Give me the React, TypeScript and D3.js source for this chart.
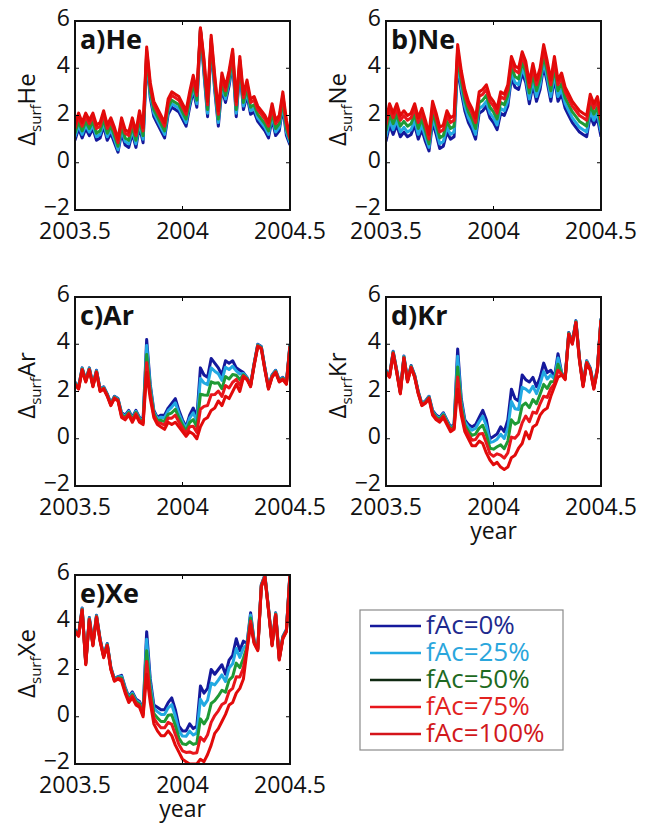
import React from "react";
import * as d3 from "d3";

// sample days since 2003.5 (every 6 days)
const DAYS = [0,6,12,18,24,30,36,42,48,54,60,66,72,78,84,90,96,102,108,114,120,126,132,138,144,150,156,162,168,174,180,186,192,198,204,210,216,222,228,234,240,246,252,258,264,270,276,282,288,294,300,306,312,318,324,330,336,342,348,354,360];

const X_TICKS = [2003.5, 2004, 2004.5];
const X_TICK_LABELS = ["2003.5", "2004", "2004.5"];
const Y_TICKS = [-2, 0, 2, 4, 6];
const Y_TICK_LABELS = ["\u22122", "0", "2", "4", "6"];

const SERIES_NAMES = ["fAc=0%", "fAc=25%", "fAc=50%", "fAc=75%", "fAc=100%"];

// He
const HE_0 = [0.95,1.45,1.05,1.45,1.15,1.45,0.95,1.05,1.55,0.95,1.25,0.85,0.45,1.25,0.75,0.65,1.25,0.65,1.55,0.85,4.35,2.75,1.95,1.65,1.35,1.05,2.05,2.35,2.25,2.15,1.85,1.55,2.35,3.05,2.35,5.6,3.75,1.95,4.95,3.05,1.55,3.15,2.55,3.25,4.25,1.95,3.95,2.25,2.85,2.05,2.15,1.75,1.55,1.35,1.05,1.85,1.15,1.35,2.35,1.15,0.75];
const HE_25 = [1.1,1.6,1.2,1.6,1.3,1.6,1.1,1.2,1.7,1.1,1.4,1.0,0.55,1.4,0.9,0.8,1.4,0.8,1.7,1.0,4.45,2.9,2.1,1.8,1.5,1.2,2.2,2.5,2.4,2.3,2.0,1.7,2.5,3.2,2.5,5.6,3.9,2.1,5.05,3.2,1.7,3.3,2.7,3.4,4.35,2.1,4.05,2.4,3.0,2.2,2.3,1.9,1.7,1.5,1.2,2.0,1.3,1.5,2.5,1.3,0.85];
const HE_50 = [1.25,1.75,1.35,1.75,1.45,1.75,1.25,1.35,1.85,1.25,1.55,1.15,0.7,1.55,1.05,0.95,1.55,0.95,1.85,1.15,4.6,3.05,2.25,1.95,1.65,1.35,2.35,2.65,2.55,2.45,2.15,1.85,2.65,3.35,2.65,5.65,4.05,2.25,5.15,3.35,1.85,3.45,2.85,3.55,4.5,2.25,4.2,2.55,3.15,2.35,2.45,2.05,1.85,1.65,1.35,2.15,1.45,1.65,2.65,1.45,0.95];
const HE_75 = [1.45,1.95,1.55,1.95,1.65,1.95,1.45,1.55,2.05,1.45,1.75,1.35,0.85,1.75,1.25,1.15,1.75,1.15,2.05,1.35,4.75,3.25,2.45,2.15,1.85,1.55,2.55,2.85,2.75,2.65,2.35,2.05,2.85,3.55,2.85,5.7,4.25,2.45,5.25,3.55,2.05,3.65,3.05,3.75,4.65,2.45,4.35,2.75,3.35,2.55,2.65,2.25,2.05,1.85,1.55,2.35,1.65,1.85,2.85,1.65,1.0];
const HE_100 = [1.6,2.1,1.7,2.1,1.8,2.1,1.6,1.7,2.2,1.6,1.9,1.5,1.0,1.9,1.4,1.3,1.9,1.3,2.2,1.5,4.9,3.4,2.6,2.3,2.0,1.7,2.7,3.0,2.9,2.8,2.5,2.2,3.0,3.7,3.0,5.7,4.4,2.6,5.4,3.7,2.2,3.8,3.2,3.9,4.8,2.6,4.5,2.9,3.5,2.7,2.8,2.4,2.2,2.0,1.7,2.5,1.8,2.0,3.0,1.8,1.1];

// Ne
const NE_0 = [0.9,1.6,1.2,1.6,1.1,1.3,1.1,1.2,1.6,1.0,1.4,0.9,0.5,1.7,1.2,0.6,0.7,1.3,1.0,1.1,4.1,3.0,2.2,1.7,1.4,1.0,2.1,2.2,2.4,1.9,1.7,1.4,2.1,2.0,2.4,3.6,3.2,3.1,3.8,3.4,2.5,3.3,2.6,3.1,4.1,3.4,2.6,3.6,2.6,2.9,2.3,2.0,1.7,1.5,1.3,1.2,1.1,2.0,1.6,1.9,1.1];
const NE_25 = [1.1,1.8,1.4,1.8,1.3,1.5,1.3,1.4,1.8,1.2,1.6,1.1,0.65,1.9,1.4,0.8,0.9,1.5,1.2,1.3,4.3,3.2,2.4,1.9,1.6,1.2,2.3,2.4,2.6,2.1,1.9,1.6,2.3,2.2,2.6,3.8,3.4,3.3,4.0,3.6,2.7,3.5,2.8,3.3,4.3,3.6,2.8,3.8,2.8,3.1,2.5,2.2,1.9,1.7,1.5,1.4,1.3,2.2,1.8,2.1,1.3];
const NE_50 = [1.35,2.05,1.65,2.05,1.55,1.75,1.55,1.65,2.05,1.45,1.85,1.35,0.8,2.15,1.65,1.05,1.15,1.75,1.45,1.55,4.55,3.45,2.65,2.15,1.85,1.45,2.55,2.65,2.85,2.35,2.15,1.85,2.55,2.45,2.85,4.05,3.65,3.55,4.25,3.85,2.95,3.75,3.05,3.55,4.55,3.85,3.05,4.05,3.05,3.35,2.75,2.45,2.15,1.95,1.75,1.65,1.55,2.45,2.05,2.35,1.55];
const NE_75 = [1.6,2.3,1.9,2.3,1.8,2.0,1.8,1.9,2.3,1.7,2.1,1.6,1.0,2.4,1.9,1.3,1.4,2.0,1.7,1.8,4.8,3.7,2.9,2.4,2.1,1.7,2.8,2.9,3.1,2.6,2.4,2.1,2.8,2.7,3.1,4.3,3.9,3.8,4.5,4.1,3.2,4.0,3.3,3.8,4.8,4.1,3.3,4.3,3.3,3.6,3.0,2.7,2.4,2.2,2.0,1.9,1.8,2.7,2.3,2.6,1.8];
const NE_100 = [1.8,2.5,2.1,2.5,2.0,2.2,2.0,2.1,2.5,1.9,2.3,1.8,1.2,2.6,2.1,1.5,1.6,2.2,1.9,2.0,5.0,3.9,3.1,2.6,2.3,1.9,3.0,3.1,3.3,2.8,2.6,2.3,3.0,2.9,3.3,4.5,4.1,4.0,4.7,4.3,3.4,4.2,3.5,4.0,5.0,4.3,3.5,4.5,3.5,3.8,3.2,2.9,2.6,2.4,2.2,2.1,2.0,2.9,2.5,2.8,2.0];

// Ar
const AR_0 = [2.4,2.2,3.0,2.5,3.0,2.3,2.9,2.1,2.2,1.9,1.5,1.8,1.7,1.1,1.0,1.2,0.9,1.2,0.9,0.8,4.2,2.3,1.2,0.9,1.0,1.0,1.3,1.5,1.7,1.2,0.8,0.5,1.0,1.3,0.9,3.0,2.7,2.6,3.4,3.2,3.0,2.7,3.3,3.2,3.3,3.0,2.9,2.8,2.6,2.3,3.2,4.0,3.9,3.0,2.2,2.7,2.9,2.5,2.6,2.4,4.0];
const AR_25 = [2.38,2.18,2.98,2.48,2.98,2.28,2.88,2.08,2.18,1.88,1.48,1.78,1.68,1.06,0.96,1.16,0.86,1.16,0.86,0.76,3.95,2.19,1.15,0.85,0.91,0.89,1.19,1.34,1.52,1.07,0.71,0.43,0.87,1.1,0.74,2.55,2.36,2.29,3.0,2.86,2.75,2.47,3.03,2.93,3.07,2.87,2.74,2.76,2.58,2.28,3.18,3.98,3.88,2.98,2.18,2.68,2.88,2.48,2.58,2.38,3.98];
const AR_50 = [2.35,2.15,2.95,2.45,2.95,2.25,2.85,2.05,2.15,1.85,1.45,1.75,1.65,1.01,0.91,1.11,0.81,1.11,0.81,0.71,3.57,2.03,1.07,0.77,0.78,0.73,1.03,1.1,1.25,0.89,0.58,0.32,0.69,0.81,0.5,1.88,1.85,1.84,2.41,2.35,2.37,2.12,2.63,2.53,2.72,2.69,2.5,2.71,2.55,2.25,3.15,3.95,3.85,2.95,2.15,2.65,2.85,2.45,2.55,2.35,3.95];
const AR_75 = [2.33,2.13,2.93,2.43,2.93,2.23,2.83,2.03,2.13,1.83,1.43,1.73,1.63,0.96,0.86,1.06,0.76,1.06,0.76,0.66,3.22,1.88,0.99,0.69,0.65,0.58,0.88,0.87,1.0,0.71,0.45,0.22,0.51,0.53,0.27,1.25,1.37,1.41,1.86,1.87,2.02,1.79,2.25,2.15,2.39,2.51,2.27,2.66,2.53,2.23,3.13,3.93,3.83,2.93,2.13,2.63,2.83,2.43,2.53,2.33,3.93];
const AR_100 = [2.3,2.1,2.9,2.4,2.9,2.2,2.8,2.0,2.1,1.8,1.4,1.7,1.6,0.9,0.8,1.0,0.7,1.0,0.7,0.6,2.8,1.7,0.9,0.6,0.5,0.4,0.7,0.6,0.7,0.5,0.3,0.1,0.3,0.2,0.0,0.5,0.8,0.9,1.2,1.3,1.6,1.4,1.8,1.7,2.0,2.3,2.0,2.6,2.5,2.2,3.1,3.9,3.8,2.9,2.1,2.6,2.8,2.4,2.5,2.3,3.9];

// Kr
const KR_0 = [2.9,2.7,3.7,2.9,2.0,3.5,2.5,3.1,2.7,2.0,1.5,1.6,1.8,1.2,1.0,0.9,1.1,0.8,0.5,0.6,3.8,1.7,0.8,0.6,0.5,0.6,0.9,1.2,0.8,0.0,0.1,0.2,0.5,0.3,0.8,2.1,1.7,1.6,2.7,2.5,2.4,2.6,2.2,2.6,3.2,2.8,2.9,2.6,3.6,2.8,2.6,4.5,4.1,5.0,3.4,2.3,3.3,3.0,2.2,3.0,5.1];
const KR_25 = [2.88,2.68,3.68,2.88,1.98,3.48,2.48,3.08,2.68,1.98,1.48,1.58,1.78,1.16,0.96,0.86,1.06,0.76,0.46,0.56,3.49,1.57,0.71,0.49,0.36,0.44,0.72,0.95,0.55,-0.16,-0.12,-0.02,0.19,0.01,0.44,1.58,1.27,1.24,2.18,2.1,1.97,2.22,1.91,2.31,2.84,2.53,2.7,2.53,3.42,2.78,2.58,4.48,4.08,4.98,3.38,2.28,3.28,2.98,2.18,2.98,5.08];
const KR_50 = [2.85,2.65,3.65,2.85,1.95,3.45,2.45,3.05,2.65,1.95,1.45,1.55,1.75,1.11,0.91,0.81,1.01,0.71,0.41,0.51,3.04,1.39,0.58,0.33,0.14,0.2,0.45,0.57,0.17,-0.4,-0.44,-0.34,-0.26,-0.42,-0.1,0.8,0.62,0.7,1.4,1.51,1.32,1.66,1.48,1.88,2.3,2.13,2.41,2.42,3.15,2.75,2.55,4.45,4.05,4.95,3.35,2.25,3.25,2.95,2.15,2.95,5.05];
const KR_75 = [2.83,2.63,3.63,2.83,1.93,3.43,2.43,3.03,2.63,1.93,1.43,1.53,1.73,1.06,0.86,0.76,0.96,0.66,0.36,0.46,2.61,1.21,0.45,0.18,-0.06,-0.03,0.2,0.22,-0.18,-0.63,-0.74,-0.64,-0.69,-0.82,-0.6,0.07,0.02,0.2,0.67,0.96,0.72,1.13,1.08,1.48,1.8,1.75,2.13,2.32,2.9,2.73,2.53,4.43,4.03,4.93,3.33,2.23,3.23,2.93,2.13,2.93,5.03];
const KR_100 = [2.8,2.6,3.6,2.8,1.9,3.4,2.4,3.0,2.6,1.9,1.4,1.5,1.7,1.0,0.8,0.7,0.9,0.6,0.3,0.4,2.1,1.0,0.3,0.0,-0.3,-0.3,-0.1,-0.2,-0.6,-0.9,-1.1,-1.0,-1.2,-1.3,-1.2,-0.8,-0.7,-0.4,-0.2,0.3,0.0,0.5,0.6,1.0,1.2,1.3,1.8,2.2,2.6,2.7,2.5,4.4,4.0,4.9,3.3,2.2,3.2,2.9,2.1,2.9,5.0];

// Xe
const XE_0 = [3.7,3.5,4.6,2.3,4.2,3.1,4.3,3.3,2.6,3.1,2.1,1.6,1.7,1.75,1.25,0.85,1.05,0.75,0.65,0.25,3.6,1.6,0.5,0.4,0.3,0.3,0.6,0.8,0.3,-0.4,-0.6,-0.6,-0.3,-0.5,-0.4,1.3,1.0,1.2,2.0,1.8,2.0,2.2,1.8,2.4,2.6,3.3,2.8,3.2,3.1,4.4,3.2,2.9,5.6,6.0,4.6,3.1,4.4,2.5,3.4,3.7,6.1];
const XE_25 = [3.68,3.48,4.58,2.28,4.18,3.08,4.28,3.28,2.58,3.08,2.08,1.58,1.68,1.7,1.2,0.8,1.0,0.7,0.6,0.2,3.28,1.42,0.36,0.22,0.1,0.1,0.38,0.51,0.03,-0.6,-0.82,-0.83,-0.61,-0.77,-0.69,0.74,0.48,0.7,1.42,1.35,1.55,1.77,1.49,2.06,2.24,2.89,2.51,2.91,3.05,4.31,3.18,2.88,5.58,5.98,4.58,3.08,4.38,2.48,3.38,3.68,6.08];
const XE_50 = [3.65,3.45,4.55,2.25,4.15,3.05,4.25,3.25,2.55,3.05,2.05,1.55,1.65,1.64,1.14,0.74,0.94,0.64,0.54,0.14,2.79,1.15,0.14,-0.05,-0.2,-0.2,0.06,0.08,-0.37,-0.9,-1.14,-1.18,-1.06,-1.17,-1.12,-0.09,-0.3,-0.06,0.56,0.68,0.88,1.12,1.04,1.55,1.7,2.27,2.08,2.48,2.97,4.18,3.15,2.85,5.55,5.95,4.55,3.05,4.35,2.45,3.35,3.65,6.05];
const XE_75 = [3.63,3.43,4.53,2.23,4.13,3.03,4.23,3.23,2.53,3.03,2.03,1.53,1.63,1.58,1.08,0.68,0.88,0.58,0.48,0.08,2.34,0.9,-0.06,-0.3,-0.47,-0.47,-0.24,-0.32,-0.75,-1.17,-1.44,-1.51,-1.49,-1.55,-1.52,-0.87,-1.03,-0.76,-0.24,0.05,0.25,0.52,0.61,1.07,1.2,1.69,1.68,2.08,2.89,4.05,3.13,2.83,5.53,5.93,4.53,3.03,4.33,2.43,3.33,3.63,6.03];
const XE_100 = [3.6,3.4,4.5,2.2,4.1,3.0,4.2,3.2,2.5,3.0,2.0,1.5,1.6,1.5,1.0,0.6,0.8,0.5,0.4,0.0,1.8,0.6,-0.3,-0.6,-0.8,-0.8,-0.6,-0.8,-1.2,-1.5,-1.8,-1.9,-2.0,-2.0,-2.0,-1.8,-1.9,-1.6,-1.2,-0.7,-0.5,-0.2,0.1,0.5,0.6,1.0,1.2,1.6,2.8,3.9,3.1,2.8,5.5,5.9,4.5,3.0,4.3,2.4,3.3,3.6,6.0];

const LINE_COLORS = ["#15199c", "#22a9e2", "#1f9a35", "#e8161c", "#e20a0a"];
const LEGEND_LINE_COLORS = ["#15199c", "#22a9e2", "#102a12", "#e8161c", "#d4141a"];
const LEGEND_TEXT_COLORS = ["#1d2a8e", "#2aa6dc", "#1d6a22", "#e2231f", "#d1181c"];

const FONT = "'Open Sans', 'Noto Sans', sans-serif";

type PanelDef = {
  title: string;
  gas: string;
  left: number;
  top: number;
  series: number[][];
  xlabel: boolean;
};

const PW = 215;
const PH = 189;

const PANELS: PanelDef[] = [
  { title: "a)He", gas: "He", left: 75, top: 21, series: [HE_0, HE_25, HE_50, HE_75, HE_100], xlabel: false },
  { title: "b)Ne", gas: "Ne", left: 386, top: 21, series: [NE_0, NE_25, NE_50, NE_75, NE_100], xlabel: false },
  { title: "c)Ar", gas: "Ar", left: 75, top: 297, series: [AR_0, AR_25, AR_50, AR_75, AR_100], xlabel: false },
  { title: "d)Kr", gas: "Kr", left: 386, top: 297, series: [KR_0, KR_25, KR_50, KR_75, KR_100], xlabel: true },
  { title: "e)Xe", gas: "Xe", left: 75, top: 575, series: [XE_0, XE_25, XE_50, XE_75, XE_100], xlabel: true },
];

function Panel({ p, idx }: { p: PanelDef; idx: number }) {
  const x = d3.scaleLinear().domain([2003.5, 2004.5]).range([0, PW]);
  const y = d3.scaleLinear().domain([-2, 6]).range([PH, 0]);
  const line = d3
    .line<[number, number]>()
    .x((d) => x(d[0]))
    .y((d) => y(d[1]));
  const clipId = `clip-${idx}`;
  const tickLen = 4;
  return (
    <g transform={`translate(${p.left},${p.top})`}>
      <defs>
        <clipPath id={clipId}>
          <rect x={0} y={0} width={PW} height={PH} />
        </clipPath>
      </defs>
      <rect x={0} y={0} width={PW} height={PH} fill="#fff" />
      <g clipPath={`url(#${clipId})`}>
        {p.series.map((s, si) => {
          const pts: [number, number][] = s.map((v, i) => [2003.5 + DAYS[i] / 360, v]);
          return (
            <path
              key={si}
              d={line(pts) || ""}
              fill="none"
              stroke={LINE_COLORS[si]}
              strokeWidth={3}
              strokeLinejoin="round"
            />
          );
        })}
      </g>
      {X_TICKS.map((t, i) => (
        <g key={"xt" + i}>
          <line x1={x(t)} x2={x(t)} y1={PH} y2={PH - tickLen} stroke="#000" strokeWidth={1} />
          <line x1={x(t)} x2={x(t)} y1={0} y2={tickLen} stroke="#000" strokeWidth={1} />
          <text x={x(t)} y={PH + 29} textAnchor="middle" fontFamily={FONT} fontSize={23} fill="#111">
            {X_TICK_LABELS[i]}
          </text>
        </g>
      ))}
      {Y_TICKS.map((t, i) => (
        <g key={"yt" + i}>
          <line x1={0} x2={tickLen} y1={y(t)} y2={y(t)} stroke="#000" strokeWidth={1} />
          <line x1={PW} x2={PW - tickLen} y1={y(t)} y2={y(t)} stroke="#000" strokeWidth={1} />
          <text x={-5} y={y(t) + 5} textAnchor="end" fontFamily={FONT} fontSize={23} fill="#111">
            {Y_TICK_LABELS[i]}
          </text>
        </g>
      ))}
      <rect x={0} y={0} width={PW} height={PH} fill="none" stroke="#111" strokeWidth={2} />
      <text x={5} y={28} fontFamily={FONT} fontSize={27} fontWeight="bold" fill="#111">
        {p.title}
      </text>
      <text
        transform={`translate(${-40},${PH / 2 - 6}) rotate(-90)`}
        textAnchor="middle"
        fontFamily={FONT}
        fontSize={24}
        fill="#111"
      >
        <tspan>Δ</tspan>
        <tspan fontSize={15} dy={6}>surf</tspan>
        <tspan dy={-6}>{p.gas}</tspan>
      </text>
      {p.xlabel && (
        <text x={PW / 2} y={PH + 53} textAnchor="middle" fontFamily={FONT} fontSize={23} fill="#111">
          year
        </text>
      )}
    </g>
  );
}

function Legend() {
  const left = 360;
  const top = 610;
  const w = 203;
  const h = 140;
  const rowH = 27;
  return (
    <g transform={`translate(${left},${top})`}>
      <rect x={0} y={0} width={w} height={h} fill="#fff" stroke="#8a8a8a" strokeWidth={1.2} />
      {SERIES_NAMES.map((n, i) => {
        const cy = 16 + i * rowH;
        return (
          <g key={n}>
            <line x1={10} x2={61} y1={cy} y2={cy} stroke={LEGEND_LINE_COLORS[i]} strokeWidth={2.4} />
            <text x={66} y={cy + 8} fontFamily={FONT} fontSize={26} fill={LEGEND_TEXT_COLORS[i]}>
              {n}
            </text>
          </g>
        );
      })}
    </g>
  );
}

export default function App() {
  return (
    <div style={{ position: "absolute", left: 0, top: 0 }}>
      <svg width={647} height={827} viewBox="0 0 647 827" style={{ display: "block", background: "#fff" }}>
        {PANELS.map((p, i) => (
          <Panel key={p.title} p={p} idx={i} />
        ))}
        <Legend />
      </svg>
    </div>
  );
}
